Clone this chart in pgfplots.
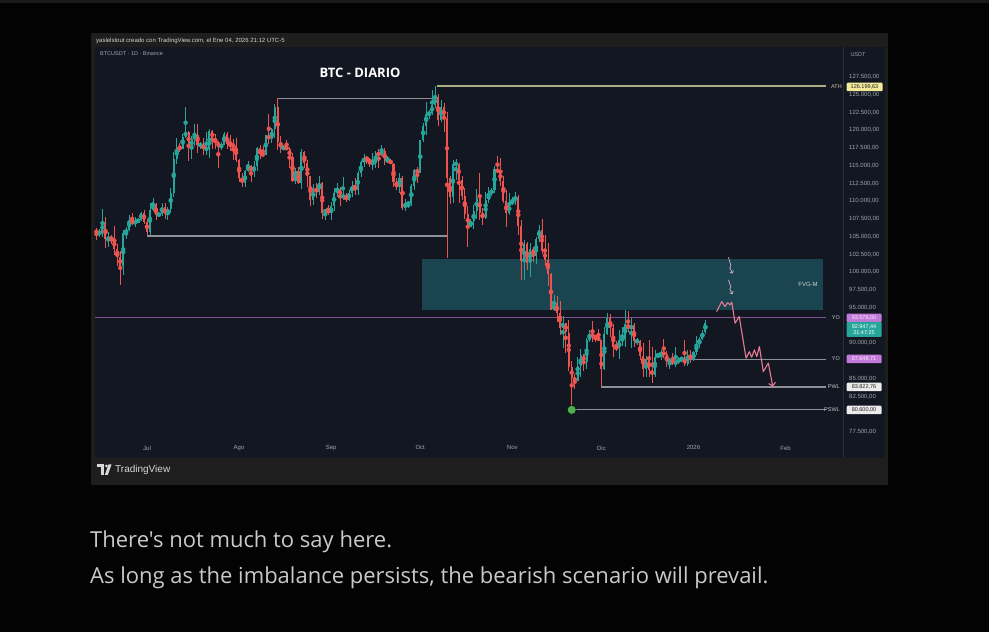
\documentclass[border=0pt]{standalone}
\usepackage{pgfplots}
\pgfplotsset{compat=1.18}
\usepackage{pgfplotstable}
\usepackage{fontspec}
\setmainfont{Open Sans}
\newfontfamily\capf{Open Sans}
\newfontfamily\tvf{Liberation Sans}
\usetikzlibrary{arrows.meta}
\definecolor{pagebg}{HTML}{030303}
\definecolor{topstrip}{HTML}{1A1A1A}
\definecolor{framebg}{HTML}{1E1E1E}
\definecolor{chartbg}{HTML}{131722}
\definecolor{sepc}{HTML}{2A2E39}
\definecolor{upc}{HTML}{26A69A}
\definecolor{dnc}{HTML}{EF5350}
\definecolor{lvl}{HTML}{8D9099}
\definecolor{athc}{HTML}{AEAE84}
\definecolor{yoc}{HTML}{7A4F8C}
\definecolor{fvg}{HTML}{1A4550}
\definecolor{proj}{HTML}{E87A93}
\definecolor{projl}{HTML}{C4A6B6}
\definecolor{txtc}{HTML}{C9C9C9}
\definecolor{axtxt}{HTML}{A0A4AD}
\definecolor{hdrtxt}{HTML}{D4D4D4}
\definecolor{athbox}{HTML}{F2EA9A}
\definecolor{yobox}{HTML}{C27AD8}
\definecolor{yotxt}{HTML}{FAEAFF}
\definecolor{whbox}{HTML}{ECECEC}
\definecolor{darktxt}{HTML}{1E1E1E}
\definecolor{dotc}{HTML}{4CAF50}
\definecolor{fvgtxt}{HTML}{C8D6D8}
\definecolor{athtxt}{HTML}{C8C8B0}
\definecolor{lbltxt}{HTML}{C4C4CC}
\definecolor{logoc}{HTML}{D9D9D9}

\pgfplotstableread{
d o h l c
-17 105.9 106.2 104.5 105.5
-16 105.5 106.1 104.9 105.6
-15 105.6 108.9 104.9 107.0
-14 107.0 107.8 103.4 104.6
-13 104.6 105.6 103.6 104.9
-12 104.9 105.3 103.9 104.6
-11 104.6 106.5 102.4 103.3
-10 103.3 104.0 100.9 102.1
-9 102.1 103.0 98.2 100.9
-8 100.9 106.0 99.6 105.5
-7 105.5 106.3 104.6 106.0
-6 106.0 108.1 105.8 107.3
-5 107.3 108.3 106.7 106.9
-4 106.9 107.8 106.3 107.1
-3 107.1 107.6 106.9 107.3
-2 107.3 108.5 107.2 108.4
-1 108.4 108.8 106.8 107.1
0 107.1 107.5 105.3 105.7
1 105.7 109.8 105.2 108.8
2 108.8 110.5 108.6 109.6
3 109.6 109.8 107.3 108.0
4 108.0 108.4 107.8 108.2
5 108.2 109.7 107.9 109.2
6 109.2 109.7 107.5 108.2
7 108.2 109.2 107.4 108.9
8 108.9 111.9 108.4 111.2
9 111.2 116.9 110.6 115.9
10 115.9 118.9 115.2 117.5
11 117.5 118.2 116.9 117.4
12 117.4 119.5 117.3 119.1
13 119.1 123.2 118.9 119.8
14 119.8 119.9 115.7 117.7
15 117.7 119.2 115.9 118.7
16 118.7 120.9 117.8 119.3
17 119.3 120.9 116.8 117.9
18 117.9 118.4 117.4 117.9
19 117.9 118.9 116.5 117.3
20 117.3 119.7 116.5 117.4
21 117.4 120.2 116.1 119.9
22 119.9 120.0 117.3 118.8
23 118.8 119.5 117.4 118.4
24 118.4 118.5 114.7 117.6
25 117.6 118.3 117.2 117.9
26 117.9 119.8 117.9 119.4
27 119.4 119.8 117.4 118.0
28 118.0 119.3 117.0 117.9
29 117.9 118.8 115.8 117.8
30 117.8 118.9 115.5 115.8
31 115.8 116.0 112.7 113.3
32 113.3 114.0 112.0 112.5
33 112.5 114.4 112.0 114.2
34 114.2 115.7 114.1 115.0
35 115.0 115.1 112.7 114.1
36 114.1 115.7 113.4 115.0
37 115.0 117.6 114.3 117.5
38 117.5 117.9 115.9 116.6
39 116.6 117.7 116.3 116.5
40 116.5 119.3 116.5 119.3
41 119.3 122.3 118.1 118.7
42 118.7 120.3 118.2 120.2
43 120.2 123.7 118.9 123.3
44 123.3 124.5 117.2 118.3
45 118.3 119.2 116.8 117.4
46 117.4 117.9 117.2 117.5
47 117.5 118.6 117.3 117.4
48 117.4 117.6 114.7 116.2
49 116.2 116.8 112.7 112.9
50 112.9 114.6 112.4 114.3
51 114.3 114.8 112.4 112.5
52 112.5 117.4 111.7 116.9
53 116.9 117.0 114.7 115.4
54 115.4 115.8 112.0 113.5
55 113.5 113.6 109.3 110.1
56 110.1 112.4 109.4 111.8
57 111.8 112.6 110.4 111.3
58 111.3 113.5 110.9 112.6
59 112.6 112.7 107.5 108.4
60 108.4 108.9 107.4 108.8
61 108.8 109.5 108.1 108.3
62 108.3 109.9 107.3 109.3
63 109.3 111.8 108.6 111.2
64 111.2 112.6 110.6 111.7
65 111.7 112.0 109.3 110.7
66 110.7 113.4 110.2 110.7
67 110.7 111.2 109.9 110.2
68 110.2 111.6 110.0 111.2
69 111.2 112.9 110.6 112.1
70 112.1 113.2 110.8 111.5
71 111.5 114.3 110.9 113.9
72 113.9 115.6 113.4 115.5
73 115.5 116.7 114.8 116.1
74 116.1 116.4 115.2 115.9
75 115.9 116.1 114.8 115.3
76 115.3 116.8 114.4 115.4
77 115.4 117.0 114.7 116.8
78 116.8 117.3 114.7 116.5
79 116.5 117.9 116.4 117.1
80 117.1 117.5 115.1 115.7
81 115.7 116.4 115.4 115.7
82 115.7 115.9 115.2 115.3
83 115.3 115.4 112.0 112.7
84 112.7 113.3 111.5 112.0
85 112.0 114.0 111.1 113.3
86 113.3 113.5 108.7 109.0
87 109.0 110.3 108.6 109.7
88 109.7 109.8 109.1 109.7
89 109.7 112.4 109.3 112.2
90 112.2 114.5 111.6 114.4
91 114.4 114.8 112.6 114.0
92 114.0 118.6 113.9 118.6
93 118.6 121.0 118.3 120.6
94 120.6 123.9 119.3 122.3
95 122.3 122.9 121.6 122.4
96 122.4 125.7 122.1 123.5
97 123.5 126.2 123.1 124.7
98 124.7 125.1 120.6 121.4
99 121.4 124.2 121.1 123.3
100 123.3 123.8 119.7 121.7
101 121.7 122.6 102.0 113.2
102 113.2 113.5 109.6 110.6
103 110.6 115.8 109.7 115.2
104 115.2 116.0 113.0 115.3
105 115.3 115.4 109.8 113.0
106 113.0 113.6 110.2 110.7
107 110.7 111.9 107.5 108.2
108 108.2 109.3 103.5 106.4
109 106.4 107.5 106.3 107.2
110 107.2 109.4 106.1 108.6
111 108.6 111.7 107.5 110.5
112 110.5 114.0 107.4 108.4
113 108.4 109.1 106.7 107.6
114 107.6 111.3 107.5 110.1
115 110.1 112.0 109.7 111.0
116 111.0 111.9 110.7 111.6
117 111.6 115.0 111.2 114.5
118 114.5 116.4 113.9 114.1
119 114.1 116.1 112.2 112.9
120 112.9 113.6 109.8 110.0
121 110.0 111.6 106.3 108.3
122 108.3 111.2 108.0 109.6
123 109.6 110.6 109.4 110.1
124 110.1 111.3 109.5 110.6
125 110.6 110.8 105.3 106.5
126 106.5 107.3 98.9 101.5
127 101.5 104.5 98.9 103.9
128 103.9 104.2 100.3 101.3
129 101.3 104.1 99.3 103.3
130 103.3 103.5 101.4 102.3
131 102.3 105.0 101.2 104.7
132 104.7 106.7 104.3 106.0
133 106.0 107.5 102.5 103.0
134 103.0 105.3 100.8 101.7
135 101.7 104.1 98.0 99.7
136 99.7 99.9 94.6 94.6
137 94.6 96.8 94.5 95.6
138 95.6 96.6 93.0 94.3
139 94.3 96.0 91.2 92.2
140 92.2 93.8 89.3 92.9
141 92.9 92.9 88.6 91.5
142 91.5 93.2 86.1 86.6
143 86.6 87.5 80.6 85.1
144 85.1 85.6 83.5 84.7
145 84.7 88.0 84.7 86.8
146 86.8 89.2 85.3 88.3
147 88.3 88.5 86.1 87.4
148 87.4 90.7 86.3 90.5
149 90.5 91.9 90.1 91.3
150 91.3 93.1 90.2 90.9
151 90.9 91.2 90.2 90.8
152 90.8 92.0 90.3 90.4
153 90.4 90.4 83.8 86.3
154 86.3 92.3 86.2 91.3
155 91.3 94.2 91.1 93.5
156 93.5 94.1 90.9 92.1
157 92.1 92.7 88.1 89.4
158 89.4 90.3 88.9 89.3
159 89.3 91.8 87.7 90.4
160 90.4 92.3 89.6 90.6
161 90.6 94.6 89.5 92.7
162 92.7 94.5 91.6 92.0
163 92.0 93.6 89.3 92.5
164 92.5 92.8 89.5 90.3
165 90.3 90.7 89.8 90.3
166 90.3 90.5 87.6 88.2
167 88.2 90.0 85.2 86.4
168 86.4 88.2 85.3 87.8
169 87.8 90.4 85.3 86.2
170 86.2 89.5 84.4 85.5
171 85.5 89.0 85.2 88.1
172 88.1 88.6 88.0 88.3
173 88.3 89.0 87.6 88.6
174 88.6 90.6 87.9 88.5
175 88.5 88.9 86.6 87.4
176 87.4 87.9 86.4 87.6
177 87.6 88.6 86.9 87.2
178 87.2 89.5 86.6 87.3
179 87.3 88.0 87.1 87.8
180 87.8 88.1 87.4 87.8
181 87.8 90.4 86.8 87.1
182 87.1 89.1 86.8 88.4
183 88.4 89.0 87.2 87.6
184 87.6 88.9 87.5 88.7
185 88.7 91.0 88.3 89.9
186 89.9 90.9 89.3 90.6
187 90.6 91.8 90.5 91.5
188 91.5 93.3 91.3 92.9
}\ohlc

\begin{document}
\begin{tikzpicture}[x=1pt,y=1pt]
% page
\fill[pagebg] (0,0) rectangle (989,632);
\fill[topstrip] (0,629) rectangle (989,632);
% screenshot frame
\fill[framebg] (91,147) rectangle (888,599);
\fill[chartbg] (95,174) rectangle (885,585);
\draw[sepc, line width=0.6pt] (843,174) -- (843,585);
% header texts
\node[anchor=west, inner sep=0pt, text=hdrtxt, font=\tvf\fontsize{6}{7}\selectfont] at (96,591) {yaslelstout creado con TradingView.com, el Ene 04, 2026 21:12 UTC-5};
\node[anchor=west, inner sep=0pt, text=axtxt, font=\tvf\fontsize{5.5}{6}\selectfont] at (100,578) {BTCUSDT · 1D · Binance};
\node[anchor=center, inner sep=0pt, text=axtxt, font=\tvf\fontsize{5.5}{6}\selectfont] at (858,577) {USDT};

\begin{axis}[
  at={(95pt,192pt)}, anchor=south west,
  width=748pt, height=393pt, scale only axis,
  xmin=-17.508, xmax=234.34, ymin=76.373, ymax=131.725,
  axis line style={draw=none},
  tick style={draw=none},
  major tick length=0pt,
  ytick={77.5,82.5,85,90,95,97.5,100,102.5,105,107.5,110,112.5,115,117.5,120,122.5,125,127.5},
  yticklabels={{77.500,00},{82.500,00},{85.000,00},{90.000,00},{95.000,00},{97.500,00},{100.000,00},{102.500,00},{105.000,00},{107.500,00},{110.000,00},{112.500,00},{115.000,00},{117.500,00},{120.000,00},{122.500,00},{125.000,00},{127.500,00}},
  yticklabel pos=right,
  yticklabel style={anchor=west, inner sep=0pt, xshift=6pt, font=\tvf\fontsize{6}{7}\selectfont, text=axtxt},
  xtick={0,31,62,92,123,153,184,215},
  xticklabels={Jul,Ago,Sep,Oct,Nov,Dic,2026,Feb},
  xticklabel style={anchor=center, inner sep=0pt, yshift=-8pt, font=\tvf\fontsize{6}{7}\selectfont, text=axtxt},
  clip=true,
]
% FVG box
\addplot[fill=fvg, draw=none] coordinates {(92.6,94.68) (227.6,94.68) (227.6,101.87) (92.6,101.87)} -- cycle;
% levels
\addplot[yoc, line width=0.9pt] coordinates {(-17.5,93.576) (228.6,93.576)};
\addplot[athc, line width=1.3pt] coordinates {(97.6,126.2) (228.6,126.2)};
\addplot[lvl, line width=1.2pt] coordinates {(44,124.5) (96.8,124.5)};
\addplot[lvl, line width=1.2pt] coordinates {(0,105.1) (101,105.1)};
\addplot[lvl, line width=1.0pt] coordinates {(184.5,87.649) (228.6,87.649)};
\addplot[lvl, line width=1.2pt] coordinates {(153,83.823) (228.6,83.823)};
\addplot[lvl, line width=1.2pt] coordinates {(143,80.6) (228.6,80.6)};
% wicks
\addplot[upc, only marks, mark=none, error bars/.cd, y dir=both, y explicit, error mark=none,
  error bar style={line width=0.6pt, color=upc}]
  table[x=d, y expr={\thisrow{c}>=\thisrow{o} ? (\thisrow{h}+\thisrow{l})/2 : -1000},
        y error expr={\thisrow{c}>=\thisrow{o} ? (\thisrow{h}-\thisrow{l})/2 : 0}] {\ohlc};
\addplot[dnc, only marks, mark=none, error bars/.cd, y dir=both, y explicit, error mark=none,
  error bar style={line width=0.6pt, color=dnc}]
  table[x=d, y expr={\thisrow{c}<\thisrow{o} ? (\thisrow{h}+\thisrow{l})/2 : -1000},
        y error expr={\thisrow{c}<\thisrow{o} ? (\thisrow{h}-\thisrow{l})/2 : 0}] {\ohlc};
% bodies
\addplot[upc, only marks, mark=none, error bars/.cd, y dir=both, y explicit, error mark=none,
  error bar style={line width=2.1pt, color=upc}]
  table[x=d, y expr={\thisrow{c}>=\thisrow{o} ? (\thisrow{o}+\thisrow{c})/2 : -1000},
        y error expr={\thisrow{c}>=\thisrow{o} ? max((\thisrow{c}-\thisrow{o})/2,0.07) : 0}] {\ohlc};
\addplot[dnc, only marks, mark=none, error bars/.cd, y dir=both, y explicit, error mark=none,
  error bar style={line width=2.1pt, color=dnc}]
  table[x=d, y expr={\thisrow{c}<\thisrow{o} ? (\thisrow{o}+\thisrow{c})/2 : -1000},
        y error expr={\thisrow{c}<\thisrow{o} ? max((\thisrow{o}-\thisrow{c})/2,0.07) : 0}] {\ohlc};
% projection
\addplot[proj, line width=1.1pt, line join=round, -{Straight Barb[length=3pt,width=7pt]}] coordinates {
(191.8,94.44) (193.5,95.85) (194.6,95.15) (195.5,95.71) (196.3,95.39) (196.9,95.77)
(198.0,92.81) (199.4,93.74) (201.7,87.88) (202.8,88.81) (203.6,88.02) (204.5,89.05)
(205.3,88.11) (206.2,89.51) (207.5,86.0) (209.2,87.18) (210.7,83.88)};
\addplot[projl, line width=0.8pt, -{Straight Barb[length=2pt,width=4pt]}] coordinates {(195.8,102.1) (196.6,100.9) (196.2,100.6) (197.2,99.8)};
\addplot[projl, line width=0.8pt, -{Straight Barb[length=2pt,width=4pt]}] coordinates {(195.8,98.9) (196.6,97.9) (196.2,97.6) (197.2,96.9)};
% low marker
\addplot[only marks, mark=*, mark size=4.5pt, mark options={fill=dotc, draw=none}] coordinates {(143,80.6)};
\end{axis}

% FVG label and level names
\node[text=fvgtxt, font=\tvf\fontsize{6}{7}\selectfont, inner sep=0pt] at (808,348) {FVG-M};
\node[anchor=east, text=athtxt, font=\tvf\fontsize{5.5}{6}\selectfont, inner sep=0pt] at (842,545) {ATH};
\node[anchor=east, text=lbltxt, font=\tvf\fontsize{5.5}{6}\selectfont, inner sep=0pt] at (840,314) {YO};
\node[anchor=east, text=lbltxt, font=\tvf\fontsize{5.5}{6}\selectfont, inner sep=0pt] at (840,273) {YO};
\node[anchor=east, text=lbltxt, font=\tvf\fontsize{5.5}{6}\selectfont, inner sep=0pt] at (840,245) {PWL};
\node[anchor=east, text=lbltxt, font=\tvf\fontsize{5.5}{6}\selectfont, inner sep=0pt] at (840,222) {PSWL};
% price boxes
\node[fill=athbox, text=darktxt, font=\tvf\fontsize{5.5}{6}\selectfont, minimum width=36pt, minimum height=8.5pt, inner sep=0pt, rounded corners=1pt] at (864.5,545) {126.199,63};
\node[fill=yobox, text=yotxt, font=\tvf\fontsize{5.5}{6}\selectfont, minimum width=35pt, minimum height=8.5pt, inner sep=0pt, rounded corners=1pt] at (864,314) {93.576,00};
\node[fill=upc, text=white, font=\tvf\fontsize{5.5}{6.5}\selectfont, minimum width=35pt, minimum height=15pt, inner sep=0pt, align=center, rounded corners=1pt] at (864,302.5) {92.947,44\\21:47:25};
\node[fill=yobox, text=yotxt, font=\tvf\fontsize{5.5}{6}\selectfont, minimum width=35pt, minimum height=8.5pt, inner sep=0pt, rounded corners=1pt] at (864,273) {87.648,71};
\node[fill=whbox, text=darktxt, font=\tvf\fontsize{5.5}{6}\selectfont, minimum width=35pt, minimum height=8.5pt, inner sep=0pt, rounded corners=1pt] at (864,245) {83.822,76};
\node[fill=whbox, text=darktxt, font=\tvf\fontsize{5.5}{6}\selectfont, minimum width=35pt, minimum height=8.5pt, inner sep=0pt, rounded corners=1pt] at (864,222) {80.600,00};
% title
\node[text=white, font=\fontsize{13}{15}\selectfont\bfseries, inner sep=0pt] at (360,559) {BTC - DIARIO};
% TradingView logo
\fill[logoc] (97,164.5) rectangle (104,167.5);
\fill[logoc] (101,157) rectangle (104,167.5);
\fill[logoc] (106.3,166) circle (1.5);
\fill[logoc] (108.5,167.5) -- (111.5,167.5) -- (107.8,157) -- (104.8,157) -- cycle;
\node[anchor=west, inner sep=0pt, text=logoc, font=\tvf\fontsize{10}{12}\selectfont] at (115,162) {TradingView};
% caption text
\node[anchor=base west, inner sep=0pt, text=txtc, font=\capf\fontsize{22}{26}\selectfont] at (90,84) {There's not much to say here.};
\node[anchor=base west, inner sep=0pt, text=txtc, font=\capf\fontsize{22}{26}\selectfont] at (90,48) {As long as the imbalance persists, the bearish scenario will prevail.};
\end{tikzpicture}
\end{document}
